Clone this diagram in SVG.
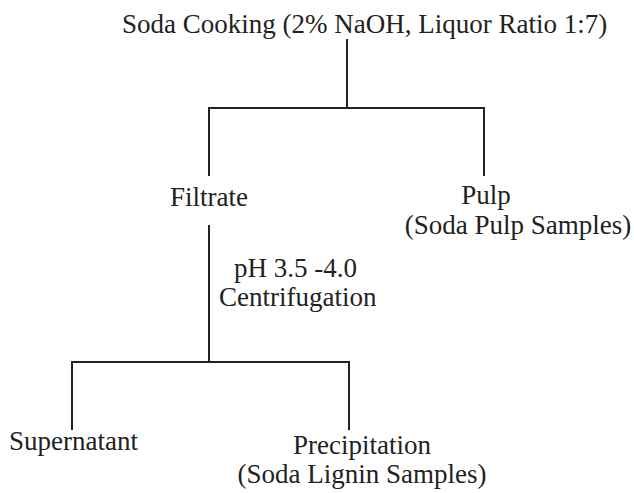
<svg xmlns="http://www.w3.org/2000/svg" width="634" height="493" viewBox="0 0 634 493">
<style>
text{font-family:"Liberation Serif","Times New Roman",serif;font-size:27px;fill:#222}
.c{text-anchor:middle}
.ln{stroke:#222;stroke-width:2;fill:none}
</style>
<rect width="634" height="493" fill="#fff"/>
<g id="connectors">
<path class="ln" d="M347,39V108M209,176V108H484V176"/>
<path class="ln" d="M209,225V362M72,430V362H349V430"/>
</g>
<g id="soda-cooking"><text x="122" y="33">Soda Cooking (2% NaOH, Liquor Ratio 1:7)</text></g>
<g id="filtrate"><text class="c" x="209" y="206">Filtrate</text></g>
<g id="pulp"><text class="c" x="486" y="204">Pulp</text><text class="c" x="518" y="234">(Soda Pulp Samples)</text></g>
<g id="conditions"><text x="234" y="277">pH 3.5 -4.0</text><text x="219" y="306">Centrifugation</text></g>
<g id="supernatant"><text x="9" y="450">Supernatant</text></g>
<g id="precipitation"><text class="c" x="362" y="454">Precipitation</text><text class="c" x="362" y="483">(Soda Lignin Samples)</text></g>
</svg>
